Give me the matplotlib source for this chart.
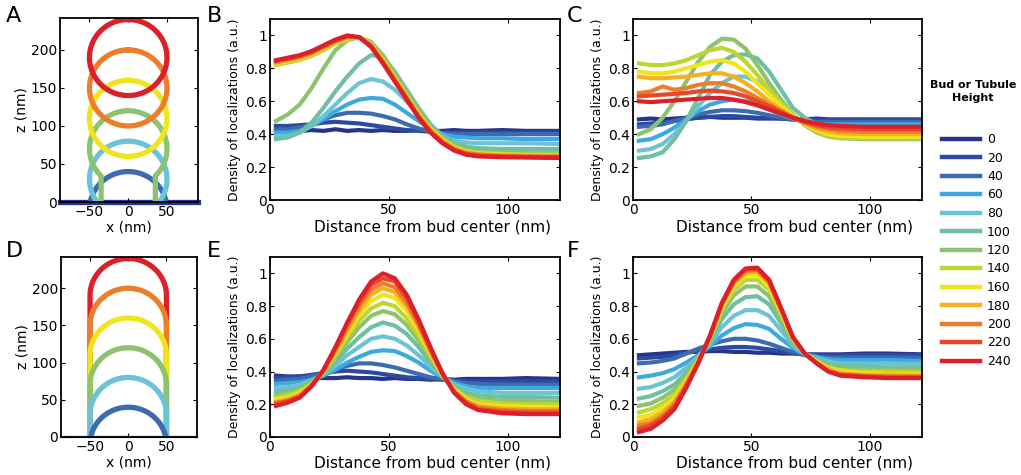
import numpy as np
import matplotlib
matplotlib.use("Agg")
import matplotlib.pyplot as plt
from matplotlib.lines import Line2D

plt.rcParams['font.family'] = ['DejaVu Sans']

# bud / tubule heights (nm) and their colours
HEIGHTS = [0, 20, 40, 60, 80, 100, 120, 140, 160, 180, 200, 220, 240]
COLORS = ['#27348b', '#2d4a9e', '#3d6bb0', '#3ca9e0', '#6cc3d5', '#6fbfa3',
          '#8dc26f', '#bfd531', '#f0e51c', '#f5b120', '#ec7d2a', '#e5482a',
          '#dd1f2a']

# geometry of the model shapes drawn in A and D
RADIUS = 50
NECK_HALF = 35
SHAPE_HEIGHTS = [40, 80, 120, 160, 200, 240]
BUD_OPEN = [True, True, True, False, False, False]

# distance from bud center (nm)
DIST = [2.5, 7.5, 12.5, 17.5, 22.5, 27.5, 32.5, 37.5, 42.5, 47.5, 52.5,
        57.5, 62.5, 67.5, 72.5, 77.5, 82.5, 87.5, 97.5, 107.5, 122.5]

# panel B: buds, one row per height (0 .. 240)
B_DENSITY = [
    [0.425, 0.42, 0.42, 0.425, 0.42, 0.43, 0.42, 0.425, 0.42, 0.425, 0.42, 0.42, 0.425, 0.42, 0.42, 0.425, 0.42, 0.42, 0.425, 0.42, 0.42],
    [0.45, 0.45, 0.455, 0.46, 0.47, 0.475, 0.47, 0.465, 0.455, 0.445, 0.435, 0.425, 0.42, 0.415, 0.41, 0.41, 0.41, 0.41, 0.41, 0.41, 0.41],
    [0.43, 0.43, 0.44, 0.46, 0.49, 0.515, 0.53, 0.53, 0.525, 0.51, 0.49, 0.46, 0.435, 0.415, 0.405, 0.40, 0.40, 0.40, 0.40, 0.40, 0.40],
    [0.41, 0.41, 0.42, 0.45, 0.49, 0.54, 0.58, 0.61, 0.62, 0.615, 0.58, 0.53, 0.48, 0.43, 0.40, 0.385, 0.38, 0.375, 0.375, 0.37, 0.37],
    [0.39, 0.39, 0.41, 0.45, 0.51, 0.58, 0.65, 0.71, 0.735, 0.72, 0.67, 0.60, 0.52, 0.45, 0.39, 0.36, 0.35, 0.345, 0.345, 0.345, 0.34],
    [0.37, 0.38, 0.41, 0.47, 0.56, 0.66, 0.75, 0.83, 0.88, 0.87, 0.78, 0.67, 0.56, 0.46, 0.39, 0.345, 0.325, 0.315, 0.31, 0.31, 0.31],
    [0.48, 0.52, 0.58, 0.68, 0.80, 0.91, 0.97, 0.99, 0.96, 0.88, 0.77, 0.66, 0.55, 0.45, 0.38, 0.33, 0.305, 0.295, 0.29, 0.285, 0.285],
    [0.82, 0.835, 0.85, 0.875, 0.91, 0.95, 0.98, 0.99, 0.95, 0.855, 0.745, 0.635, 0.525, 0.435, 0.37, 0.325, 0.298, 0.287, 0.28, 0.277, 0.275],
    [0.83, 0.845, 0.86, 0.885, 0.92, 0.955, 0.98, 0.99, 0.945, 0.85, 0.74, 0.63, 0.52, 0.43, 0.365, 0.32, 0.295, 0.283, 0.276, 0.273, 0.272],
    [0.835, 0.85, 0.865, 0.89, 0.925, 0.96, 0.985, 0.99, 0.94, 0.845, 0.735, 0.625, 0.515, 0.425, 0.36, 0.315, 0.29, 0.28, 0.272, 0.27, 0.268],
    [0.84, 0.855, 0.87, 0.895, 0.93, 0.965, 0.99, 0.99, 0.94, 0.84, 0.73, 0.62, 0.51, 0.42, 0.355, 0.31, 0.285, 0.275, 0.268, 0.265, 0.265],
    [0.845, 0.86, 0.875, 0.90, 0.935, 0.97, 0.995, 0.99, 0.935, 0.835, 0.725, 0.615, 0.505, 0.415, 0.35, 0.305, 0.28, 0.27, 0.265, 0.262, 0.26],
    [0.85, 0.865, 0.88, 0.905, 0.94, 0.975, 1.0, 0.99, 0.93, 0.83, 0.72, 0.61, 0.50, 0.41, 0.345, 0.30, 0.275, 0.265, 0.26, 0.258, 0.255],
]

# panel C: buds, second condition
C_DENSITY = [
    [0.49, 0.495, 0.49, 0.495, 0.50, 0.50, 0.505, 0.50, 0.50, 0.50, 0.495, 0.495, 0.495, 0.49, 0.49, 0.495, 0.49, 0.49, 0.49, 0.49, 0.49],
    [0.46, 0.465, 0.47, 0.48, 0.49, 0.50, 0.505, 0.51, 0.51, 0.505, 0.50, 0.50, 0.495, 0.49, 0.485, 0.485, 0.485, 0.485, 0.485, 0.485, 0.485],
    [0.445, 0.45, 0.46, 0.48, 0.50, 0.52, 0.535, 0.545, 0.545, 0.54, 0.53, 0.515, 0.50, 0.49, 0.48, 0.475, 0.475, 0.475, 0.475, 0.475, 0.475],
    [0.36, 0.37, 0.40, 0.44, 0.49, 0.54, 0.58, 0.60, 0.61, 0.60, 0.58, 0.55, 0.52, 0.495, 0.475, 0.465, 0.46, 0.46, 0.46, 0.46, 0.46],
    [0.30, 0.31, 0.34, 0.40, 0.48, 0.57, 0.65, 0.71, 0.75, 0.75, 0.72, 0.66, 0.58, 0.51, 0.465, 0.445, 0.44, 0.435, 0.435, 0.435, 0.435],
    [0.255, 0.265, 0.29, 0.37, 0.48, 0.62, 0.76, 0.84, 0.88, 0.885, 0.86, 0.78, 0.67, 0.56, 0.50, 0.46, 0.43, 0.415, 0.405, 0.40, 0.40],
    [0.40, 0.43, 0.50, 0.60, 0.72, 0.84, 0.93, 0.98, 0.975, 0.92, 0.82, 0.71, 0.61, 0.52, 0.455, 0.41, 0.385, 0.375, 0.37, 0.37, 0.37],
    [0.83, 0.82, 0.82, 0.83, 0.85, 0.88, 0.91, 0.925, 0.90, 0.84, 0.76, 0.67, 0.59, 0.52, 0.46, 0.415, 0.39, 0.38, 0.375, 0.375, 0.375],
    [0.78, 0.77, 0.77, 0.78, 0.80, 0.82, 0.84, 0.85, 0.83, 0.78, 0.71, 0.64, 0.57, 0.51, 0.46, 0.425, 0.40, 0.39, 0.385, 0.385, 0.385],
    [0.75, 0.74, 0.74, 0.745, 0.75, 0.76, 0.77, 0.77, 0.75, 0.71, 0.66, 0.60, 0.55, 0.505, 0.465, 0.435, 0.415, 0.405, 0.40, 0.40, 0.40],
    [0.65, 0.66, 0.69, 0.67, 0.68, 0.70, 0.71, 0.71, 0.69, 0.66, 0.62, 0.58, 0.54, 0.50, 0.47, 0.445, 0.43, 0.42, 0.415, 0.415, 0.415],
    [0.63, 0.635, 0.64, 0.645, 0.65, 0.66, 0.665, 0.66, 0.65, 0.63, 0.60, 0.57, 0.535, 0.50, 0.475, 0.455, 0.44, 0.435, 0.43, 0.43, 0.43],
    [0.60, 0.595, 0.60, 0.605, 0.61, 0.615, 0.62, 0.62, 0.61, 0.595, 0.575, 0.55, 0.525, 0.50, 0.48, 0.465, 0.455, 0.45, 0.445, 0.445, 0.445],
]

# panel E: tubules
E_DENSITY = [
    [0.375, 0.37, 0.37, 0.365, 0.36, 0.36, 0.365, 0.36, 0.36, 0.355, 0.36, 0.355, 0.355, 0.35, 0.355, 0.35, 0.355, 0.355, 0.355, 0.36, 0.355],
    [0.36, 0.365, 0.37, 0.38, 0.39, 0.40, 0.405, 0.40, 0.395, 0.385, 0.375, 0.365, 0.36, 0.355, 0.35, 0.345, 0.34, 0.34, 0.34, 0.34, 0.34],
    [0.345, 0.35, 0.355, 0.37, 0.39, 0.415, 0.435, 0.45, 0.45, 0.44, 0.425, 0.405, 0.385, 0.365, 0.355, 0.34, 0.33, 0.325, 0.32, 0.32, 0.32],
    [0.325, 0.33, 0.335, 0.35, 0.375, 0.41, 0.455, 0.49, 0.52, 0.53, 0.525, 0.495, 0.455, 0.405, 0.365, 0.33, 0.31, 0.30, 0.30, 0.30, 0.30],
    [0.30, 0.305, 0.32, 0.345, 0.38, 0.435, 0.50, 0.55, 0.60, 0.615, 0.60, 0.56, 0.50, 0.43, 0.37, 0.32, 0.295, 0.28, 0.27, 0.27, 0.27],
    [0.28, 0.285, 0.30, 0.335, 0.385, 0.46, 0.54, 0.61, 0.67, 0.70, 0.68, 0.63, 0.55, 0.455, 0.375, 0.31, 0.27, 0.255, 0.245, 0.245, 0.24],
    [0.255, 0.27, 0.29, 0.33, 0.39, 0.48, 0.58, 0.67, 0.74, 0.77, 0.75, 0.685, 0.59, 0.48, 0.375, 0.30, 0.255, 0.235, 0.22, 0.22, 0.215],
    [0.24, 0.255, 0.28, 0.325, 0.395, 0.50, 0.61, 0.71, 0.785, 0.82, 0.80, 0.725, 0.62, 0.495, 0.38, 0.29, 0.245, 0.22, 0.205, 0.20, 0.20],
    [0.23, 0.24, 0.27, 0.32, 0.40, 0.51, 0.63, 0.745, 0.83, 0.87, 0.85, 0.77, 0.65, 0.51, 0.38, 0.29, 0.23, 0.20, 0.19, 0.185, 0.18],
    [0.215, 0.23, 0.26, 0.32, 0.40, 0.52, 0.65, 0.77, 0.87, 0.91, 0.885, 0.80, 0.67, 0.52, 0.385, 0.28, 0.22, 0.19, 0.175, 0.17, 0.17],
    [0.21, 0.22, 0.25, 0.315, 0.405, 0.53, 0.67, 0.80, 0.90, 0.94, 0.915, 0.82, 0.69, 0.53, 0.39, 0.28, 0.215, 0.18, 0.165, 0.16, 0.16],
    [0.20, 0.22, 0.245, 0.31, 0.41, 0.54, 0.69, 0.82, 0.93, 0.97, 0.95, 0.85, 0.70, 0.54, 0.39, 0.27, 0.21, 0.17, 0.155, 0.15, 0.15],
    [0.19, 0.21, 0.24, 0.31, 0.41, 0.55, 0.70, 0.84, 0.95, 1.00, 0.97, 0.87, 0.72, 0.55, 0.39, 0.27, 0.20, 0.165, 0.145, 0.14, 0.14],
]

# panel F: tubules, second condition
F_DENSITY = [
    [0.50, 0.505, 0.51, 0.515, 0.52, 0.52, 0.525, 0.525, 0.52, 0.52, 0.515, 0.515, 0.51, 0.51, 0.505, 0.505, 0.505, 0.505, 0.51, 0.51, 0.505],
    [0.48, 0.485, 0.49, 0.50, 0.515, 0.525, 0.535, 0.545, 0.55, 0.55, 0.545, 0.535, 0.525, 0.515, 0.505, 0.50, 0.50, 0.50, 0.50, 0.50, 0.50],
    [0.45, 0.455, 0.465, 0.48, 0.51, 0.54, 0.565, 0.585, 0.60, 0.60, 0.59, 0.57, 0.545, 0.52, 0.50, 0.49, 0.485, 0.485, 0.485, 0.485, 0.485],
    [0.365, 0.375, 0.39, 0.415, 0.455, 0.50, 0.555, 0.62, 0.665, 0.69, 0.685, 0.66, 0.60, 0.545, 0.505, 0.49, 0.475, 0.47, 0.47, 0.47, 0.465],
    [0.295, 0.305, 0.33, 0.365, 0.425, 0.49, 0.57, 0.67, 0.74, 0.775, 0.775, 0.74, 0.65, 0.56, 0.505, 0.48, 0.46, 0.45, 0.45, 0.45, 0.445],
    [0.235, 0.25, 0.28, 0.32, 0.395, 0.48, 0.585, 0.72, 0.81, 0.855, 0.86, 0.81, 0.695, 0.575, 0.51, 0.475, 0.445, 0.435, 0.43, 0.425, 0.425],
    [0.19, 0.205, 0.24, 0.29, 0.375, 0.475, 0.595, 0.755, 0.865, 0.92, 0.92, 0.86, 0.73, 0.59, 0.51, 0.47, 0.435, 0.42, 0.415, 0.41, 0.41],
    [0.15, 0.17, 0.205, 0.26, 0.355, 0.47, 0.60, 0.78, 0.90, 0.96, 0.96, 0.90, 0.75, 0.595, 0.51, 0.465, 0.425, 0.41, 0.40, 0.40, 0.395],
    [0.12, 0.135, 0.18, 0.235, 0.34, 0.465, 0.605, 0.79, 0.92, 0.985, 0.99, 0.92, 0.765, 0.60, 0.51, 0.46, 0.42, 0.40, 0.39, 0.385, 0.385],
    [0.09, 0.11, 0.15, 0.215, 0.33, 0.46, 0.61, 0.805, 0.94, 1.005, 1.01, 0.94, 0.775, 0.605, 0.51, 0.455, 0.415, 0.39, 0.38, 0.38, 0.375],
    [0.07, 0.085, 0.13, 0.20, 0.32, 0.455, 0.615, 0.81, 0.945, 1.015, 1.02, 0.945, 0.78, 0.61, 0.51, 0.455, 0.405, 0.385, 0.375, 0.37, 0.37],
    [0.05, 0.07, 0.115, 0.185, 0.31, 0.45, 0.62, 0.815, 0.955, 1.025, 1.03, 0.955, 0.785, 0.61, 0.51, 0.45, 0.40, 0.38, 0.37, 0.365, 0.365],
    [0.03, 0.05, 0.10, 0.17, 0.30, 0.45, 0.62, 0.82, 0.96, 1.03, 1.035, 0.96, 0.79, 0.61, 0.51, 0.45, 0.40, 0.375, 0.365, 0.36, 0.36],
]

TICK_FS = 10
XLABEL_FS = 11
YLABEL_FS = 9
LW_CURVE = 3.0
LW_SHAPE = 3.8


def color_of(h):
    return COLORS[HEIGHTS.index(h)]


def bud_outline(h, is_open):
    """sphere of RADIUS whose top sits at h; open buds keep a neck to the membrane"""
    c = h - RADIUS
    if not is_open:
        t = np.linspace(0, 2 * np.pi, 200)
        return RADIUS * np.sin(t), c + RADIUS * np.cos(t)
    phi = np.arcsin(NECK_HALF / RADIUS)
    t = np.linspace(-(np.pi - phi), np.pi - phi, 200)
    x = RADIUS * np.sin(t)
    z = c + RADIUS * np.cos(t)
    keep = z >= 0
    x, z = x[keep], z[keep]
    if z[0] > 0:
        x = np.concatenate([[x[0]], x, [x[-1]]])
        z = np.concatenate([[0], z, [0]])
    return x, z


def tubule_outline(h):
    c = h - RADIUS
    t = np.linspace(-np.pi / 2, np.pi / 2, 120)
    if c <= 0:
        x = RADIUS * np.sin(t)
        z = c + RADIUS * np.cos(t)
        keep = z >= 0
        return x[keep], z[keep]
    x = np.concatenate([[-RADIUS], RADIUS * np.sin(t), [RADIUS]])
    z = np.concatenate([[0], c + RADIUS * np.cos(t), [0]])
    return x, z


def style_axes(ax):
    ax.tick_params(direction='in', top=True, right=True, length=3,
                   width=0.8, labelsize=TICK_FS, pad=2)
    for s in ax.spines.values():
        s.set_linewidth(1.3)


def shape_axes(ax):
    ax.set_xlim(-88, 90)
    ax.set_ylim(0, 242)
    ax.set_xticks([-50, 0, 50])
    ax.set_yticks([0, 50, 100, 150, 200])
    ax.set_xlabel('x (nm)', fontsize=TICK_FS, labelpad=1)
    ax.set_ylabel('z (nm)', fontsize=TICK_FS, labelpad=2)
    style_axes(ax)


def profile_axes(ax, rows):
    for h, row in zip(HEIGHTS, rows):
        ax.plot(DIST, row, color=color_of(h), lw=LW_CURVE,
                solid_joinstyle='round')
    ax.set_xlim(0, 122)
    ax.set_ylim(0, 1.1)
    ax.set_xticks([0, 50, 100])
    ax.set_yticks([0, 0.2, 0.4, 0.6, 0.8, 1], ['0', '0.2', '0.4', '0.6', '0.8', '1'])
    ax.set_xlabel('Distance from bud center (nm)', fontsize=XLABEL_FS)
    ax.xaxis.set_label_coords(0.56, -0.105, transform=ax.transAxes)
    ax.xaxis.label.set_va('top')
    ax.set_ylabel('Density of localizations (a.u.)', fontsize=YLABEL_FS, labelpad=3)
    style_axes(ax)


W, H = 1021, 475
fig = plt.figure(figsize=(W / 100, H / 100), dpi=100)


def add_axes(left, top, right, bottom):
    return fig.add_axes([left / W, 1 - bottom / H, (right - left) / W, (bottom - top) / H])


axA = add_axes(60, 18, 198, 202)
axB = add_axes(270, 19, 560, 200)
axC = add_axes(633, 19, 922, 200)
axD = add_axes(61, 257, 197, 437)
axE = add_axes(270, 257, 560, 437)
axF = add_axes(633, 257, 922, 437)

# A: buds
axA.axhline(0, color=COLORS[0], lw=LW_SHAPE, clip_on=False, zorder=1)
for h, is_open in zip(SHAPE_HEIGHTS, BUD_OPEN):
    x, z = bud_outline(h, is_open)
    axA.plot(x, z, color=color_of(h), lw=LW_SHAPE, zorder=2)
shape_axes(axA)

# D: tubules (lower ones drawn on top)
axD.axhline(0, color=COLORS[1], lw=1.6, clip_on=False, zorder=1)
for h in SHAPE_HEIGHTS[::-1]:
    x, z = tubule_outline(h)
    axD.plot(x, z, color=color_of(h), lw=LW_SHAPE, zorder=2)
shape_axes(axD)

profile_axes(axB, B_DENSITY)
profile_axes(axC, C_DENSITY)
profile_axes(axE, E_DENSITY)
profile_axes(axF, F_DENSITY)

# panel letters
for letter, px, py in [('A', 6, 6), ('B', 207, 6), ('C', 567, 6),
                       ('D', 6, 241), ('E', 207, 241), ('F', 567, 241)]:
    fig.text(px / W, 1 - py / H, letter, fontsize=16, va='top', ha='left')

# legend
fig.text(973 / W, 1 - 80 / H, 'Bud or Tubule\nHeight', ha='center', va='top',
         multialignment='center', fontsize=8, fontweight='bold', linespacing=1.35)
handles = [Line2D([], [], color=c, lw=3.2) for c in COLORS]
fig.legend(handles, [str(h) for h in HEIGHTS], loc='upper left',
           bbox_to_anchor=(942 / W, 1 - 133 / H), frameon=False,
           fontsize=9, handlelength=3.0, handletextpad=0.6,
           labelspacing=0.44, borderaxespad=0, borderpad=0)

fig.savefig('out.png', dpi=100)
